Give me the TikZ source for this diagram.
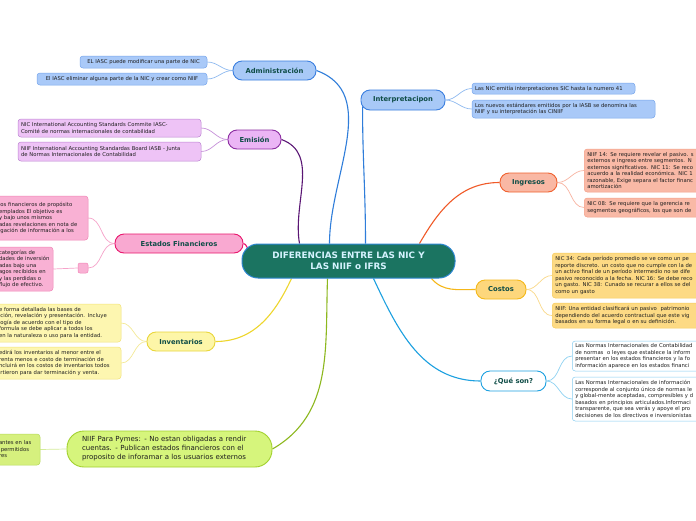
\documentclass[tikz,border=0pt]{standalone}
\usepackage{fontspec}
\setmainfont{DejaVu Sans}
\usetikzlibrary{backgrounds}
\newcommand{\lnbox}[1]{\mbox{#1}}
\definecolor{ctrfill}{HTML}{1B7461}\definecolor{ctrdraw}{HTML}{2C86D1}\definecolor{ctrtext}{HTML}{D6F3FF}
\definecolor{admfill}{HTML}{A8C9F7}\definecolor{admdraw}{HTML}{3B7FDF}\definecolor{admline}{HTML}{2F7DDA}
\definecolor{admlf}{HTML}{A9C9F8}\definecolor{admld}{HTML}{77A6EC}\definecolor{admconn}{HTML}{8FBAF0}
\definecolor{emifill}{HTML}{EBB5F5}\definecolor{emidraw}{HTML}{8B2CA0}\definecolor{emiline}{HTML}{5A1674}
\definecolor{emilf}{HTML}{EEC3F6}\definecolor{emild}{HTML}{BC84D2}\definecolor{emiconn}{HTML}{C792DA}
\definecolor{estfill}{HTML}{F9A9D1}\definecolor{estdraw}{HTML}{E8176D}\definecolor{estline}{HTML}{E8176D}
\definecolor{estlf}{HTML}{F9B1D4}\definecolor{estld}{HTML}{F184B6}\definecolor{estconn}{HTML}{F6A3CA}
\definecolor{invfill}{HTML}{FDF6A8}\definecolor{invdraw}{HTML}{E9D63C}\definecolor{invline}{HTML}{EED62C}
\definecolor{invlf}{HTML}{FDF6B0}\definecolor{invld}{HTML}{F2E37A}\definecolor{invconn}{HTML}{F4EA98}
\definecolor{pyfill}{HTML}{D6F57C}\definecolor{pydraw}{HTML}{A2D12E}\definecolor{pyline}{HTML}{8DB81E}
\definecolor{pylf}{HTML}{D6F07E}\definecolor{pyld}{HTML}{B6D95A}\definecolor{pyconn}{HTML}{D4EC9A}
\definecolor{ingfill}{HTML}{F9B8A4}\definecolor{ingdraw}{HTML}{F0612F}\definecolor{ingline}{HTML}{F05A28}
\definecolor{inglf}{HTML}{F9B9A6}\definecolor{ingld}{HTML}{F4A088}\definecolor{ingconn}{HTML}{F8B4A2}
\definecolor{cosfill}{HTML}{FDD77C}\definecolor{cosdraw}{HTML}{F4B81A}\definecolor{cosline}{HTML}{F5B719}
\definecolor{coslf}{HTML}{FDDA84}\definecolor{cosld}{HTML}{F6CB5C}\definecolor{cosconn}{HTML}{FAD98A}
\definecolor{quedraw}{HTML}{1CA0E0}\definecolor{queline}{HTML}{1CA0E0}
\definecolor{queld}{HTML}{86CDF1}\definecolor{queconn}{HTML}{8FD2F2}
\definecolor{brtext}{HTML}{0F4D47}\definecolor{leaftext}{HTML}{1E1E1E}
\begin{document}
\begin{tikzpicture}[x=1pt,y=-1pt,
  branch/.style={draw, line width=0.9pt, rounded corners=9pt, minimum height=19pt, inner sep=0pt,
    font=\fontsize{6.8}{8}\selectfont\bfseries, text=brtext},
  leaf/.style={draw, line width=0.5pt, rounded corners=3pt, inner xsep=3pt, inner ysep=0pt,
    align=left, font=\fontsize{5.3}{6.5}\selectfont, text=leaftext},
  mainline/.style={line width=1.1pt},
  leafline/.style={line width=0.7pt}]
\useasboundingbox (0,0) rectangle (696,520);
\clip (0,0) rectangle (696,520);

% center
\node[draw=ctrdraw, fill=ctrfill, line width=1pt, rounded corners=16pt, minimum width=213pt, minimum height=34pt,
  inner sep=0pt, align=center, text=ctrtext, font=\fontsize{8.8}{11.5}\selectfont\bfseries] (c) at (348.5,261)
  {DIFERENCIAS ENTRE LAS NIC Y\\LAS NIIF o IFRS};

% Administracion
\node[branch, fill=admfill, draw=admdraw, minimum width=83pt] (adm) at (274.5,70.5) {Administración};
\node[leaf, fill=admlf, draw=admld, text width=121pt, minimum height=12pt, align=center] (adm1) at (143.5,62)
  {\lnbox{EL IASC puede modificar una parte de NIC}};
\node[leaf, fill=admlf, draw=admld, text width=164pt, minimum height=12pt, align=center] (adm2) at (122,79)
  {\lnbox{El IASC eliminar alguna parte de la NIC y crear como NIIF}};

% Emision
\node[branch, fill=emifill, draw=emidraw, minimum width=53pt] (emi) at (254.5,139.5) {Emisión};
\node[leaf, fill=emilf, draw=emild, text width=177pt, minimum height=18pt] (emi1) at (109.5,128)
  {\lnbox{NIC International Accounting Standards Commite IASC-}\\\lnbox{Comité de normas internacionales de contabilidad}};
\node[leaf, fill=emilf, draw=emild, text width=177pt, minimum height=19pt] (emi2) at (109.5,151.5)
  {\lnbox{NIIF International Accounting Standardas Board IASB - Junta}\\\lnbox{de Normas Internacionales de Contabilidad}};

% Estados Financieros
\node[branch, fill=estfill, draw=estdraw, minimum width=128pt] (est) at (179,243.5) {Estados Financieros};
\node[leaf, fill=estlf, draw=estld, text width=86pt, minimum height=44pt] (est1) at (42,218)
  {\lnbox{los financieros de propósito}\\\lnbox{emplados El objetivo es}\\\lnbox{y bajo unos mismos}\\
   \lnbox{adas revelaciones en nota de}\\\lnbox{igación de información a los}};
\node[leaf, fill=estlf, draw=estld, text width=51pt, minimum height=44pt] (est2) at (24.5,269)
  {\lnbox{categorías de}\\\lnbox{dades de inversión}\\\lnbox{adas bajo una}\\\lnbox{agos recibidos en}\\
   \lnbox{y las perdidas o}\\\lnbox{flujo de efectivo.}};
\node[draw=estld, fill=estlf, line width=0.5pt, rounded corners=2pt, minimum width=10pt, minimum height=10pt,
  inner sep=0pt] (estsq) at (83,268) {};

% Inventarios
\node[branch, fill=invfill, draw=invdraw, minimum width=68pt] (inv) at (181,341.5) {Inventarios};
\node[leaf, fill=invlf, draw=invld, text width=119pt, minimum height=38pt] (inv1) at (58.5,323)
  {\lnbox{e forma detallada las bases de}\\\lnbox{ición, revelación y presentación. Incluye}\\
   \lnbox{logía de acuerdo con el tipo de}\\\lnbox{formula se debe aplicar a todos los}\\
   \lnbox{en la naturaleza o uso para la entidad.}};
\node[leaf, fill=invlf, draw=invld, text width=119pt, minimum height=32pt] (inv2) at (58.5,363)
  {\lnbox{edirá los inventarios al menor entre el}\\\lnbox{renta menos e costo de terminación de}\\
   \lnbox{ncluirá en los costos de inventarios todos}\\\lnbox{irtieron para dar terminación y venta.}};

% NIIF Pymes
\node[draw=pydraw, fill=pyfill, line width=0.9pt, rounded corners=17pt, minimum width=205pt, minimum height=36pt,
  inner xsep=15pt, inner ysep=0pt, text width=175pt, align=left, text=leaftext,
  font=\fontsize{7}{9}\selectfont] (py) at (169.5,449)
  {\lnbox{NIIF Para Pymes: - No estan obligadas a rendir}\\\lnbox{cuentas. - Publican estados financieros con el}\\
   \lnbox{proposito de inforamar a los usuarios externos}};
\node[leaf, fill=pylf, draw=pyld, text width=38pt, minimum height=31pt] (pyl) at (18,449.5)
  {\lnbox{antes en las}\\\lnbox{ permitidos}\\\lnbox{res}};

% Interpretacipon
\node[branch, fill=admfill, draw=admdraw, minimum width=84pt, minimum height=20pt] (int) at (403,100) {Interpretacipon};
\node[leaf, fill=admlf, draw=admld, text width=157pt, minimum height=11pt] (int1) at (553.5,88.5)
  {\lnbox{Las NIC emitía interpretaciones SIC hasta la numero 41}};
\node[leaf, fill=admlf, draw=admld, text width=177pt, minimum height=18pt] (int2) at (563.5,109)
  {\lnbox{Los nuevos estándares emitidos por la IASB se denomina las}\\\lnbox{NIIF y su interpretación las CINIIF}};

% Ingresos
\node[branch, fill=ingfill, draw=ingdraw, minimum width=57pt] (ing) at (528.5,182.5) {Ingresos};
\node[leaf, fill=inglf, draw=ingld, text width=200pt, minimum height=43pt, anchor=west] (ing1) at (584,170.5)
  {NIIF 14: Se requiere revelar el pasivo. s\\externos e ingreso entre segmentos. N\\
   externos significativos. NIC 11: Se reco\\acuerdo a la realidad económica. NIC 1\\
   razonable, Exige separa el factor financ\\amortización};
\node[leaf, fill=inglf, draw=ingld, text width=200pt, minimum height=19pt, anchor=west] (ing2) at (584,207.5)
  {NIC 08: Se requiere que la gerencia re\\segmentos geográficos, los que son de};

% Costos
\node[branch, fill=cosfill, draw=cosdraw, minimum width=50pt] (cos) at (501,289.5) {Costos};
\node[leaf, fill=coslf, draw=cosld, text width=200pt, minimum height=45pt, anchor=west] (cos1) at (552,275.5)
  {NIC 34: Cada período promedio se ve como un pe\\reporte discreto. un costo que no cumple con la de\\
   un activo final de un período intermedio no se dife\\pasivo reconocido a la fecha. NIC 16: Se debe reco\\
   un gasto. NIC 38: Cunado se recurar a ellos se del\\como un gasto};
\node[leaf, fill=coslf, draw=cosld, text width=200pt, minimum height=25pt, anchor=west] (cos2) at (552,315.5)
  {NIIF: Una entidad clasificará un pasivo\ \ patrimonio\\dependiendo del acuerdo contractual que este vig\\
   basados en su forma legal o en su definición.};

% Que son
\node[branch, fill=white, draw=quedraw, minimum width=65pt, minimum height=20pt] (que) at (513.5,381) {¿Qué son?};
\node[leaf, fill=white, draw=queld, text width=200pt, minimum height=30pt, anchor=west] (que1) at (572,356)
  {Las Normas Internacionales de Contabilidad\\de normas\ \ o leyes que establece la inform\\
   presentar en los estados financieros y la fo\\información aparece en los estados financi};
\node[leaf, fill=white, draw=queld, text width=200pt, minimum height=44pt, anchor=west] (que2) at (572,399)
  {Las Normas Internacionales de información\\corresponde al conjunto único de normas le\\
   y global-mente aceptadas, compresibles y d\\basados en principios articulados.Informaci\\
   transparente, que sea verás y apoye el pro\\decisiones de los directivos e inversionistas};

\begin{scope}[on background layer]
\fill[white] (0,0) rectangle (696,520);
% main connectors
\draw[mainline, admline] (adm.east) to[out=-20,in=90] ([xshift=88pt]c.north west);
\draw[mainline, emiline] (emi.east) to[out=-20,in=100] ([xshift=58pt]c.north west);
\draw[mainline, estline] (est.east) to[out=-5,in=165] ([xshift=8pt,yshift=-6pt]c.north west);
\draw[mainline, invline] (inv.east) to[out=0,in=-115] ([xshift=50pt]c.south west);
\draw[mainline, pyline] (py.east) to[out=30,in=-92] ([xshift=86pt]c.south west);
\draw[mainline, admline] ([xshift=2pt,yshift=4pt]int.south west) to[out=-90,in=90] ([xshift=124pt]c.north west);
\draw[mainline, ingline] (ing.west) to[out=180,in=60] ([xshift=178pt]c.north west);
\draw[mainline, cosline] (cos.west) to[out=180,in=-50] ([xshift=190pt]c.south west);
\draw[mainline, queline] (que.west) to[out=180,in=-65] ([xshift=132pt]c.south west);
% leaf connectors
\draw[leafline, admconn] (adm.west) to[out=180,in=0] (adm1.east);
\draw[leafline, admconn] (adm.west) to[out=180,in=0] (adm2.east);
\draw[leafline, emiconn] (emi.west) to[out=180,in=0] (emi1.east);
\draw[leafline, emiconn] (emi.west) to[out=180,in=0] (emi2.east);
\draw[leafline, estconn] (est.west) to[out=180,in=0] (est1.east);
\draw[leafline, estconn] (est.west) to[out=180,in=0] (estsq.east);
\draw[leafline, estconn] (estsq.west) -- (est2.east);
\draw[leafline, invconn] (inv.west) to[out=180,in=0] (inv1.east);
\draw[leafline, invconn] (inv.west) to[out=180,in=0] (inv2.east);
\draw[leafline, pyconn] (py.west) -- (pyl.east);
\draw[leafline, admconn] (int.east) to[out=0,in=180] (int1.west);
\draw[leafline, admconn] (int.east) to[out=0,in=180] (int2.west);
\draw[leafline, ingconn] (ing.east) to[out=0,in=180] (ing1.west);
\draw[leafline, ingconn] (ing.east) to[out=0,in=180] (ing2.west);
\draw[leafline, cosconn] (cos.east) to[out=0,in=180] (cos1.west);
\draw[leafline, cosconn] (cos.east) to[out=0,in=180] (cos2.west);
\draw[leafline, queconn] (que.east) to[out=0,in=180] (que1.west);
\draw[leafline, queconn] (que.east) to[out=0,in=180] (que2.west);
\end{scope}
\end{tikzpicture}
\end{document}
